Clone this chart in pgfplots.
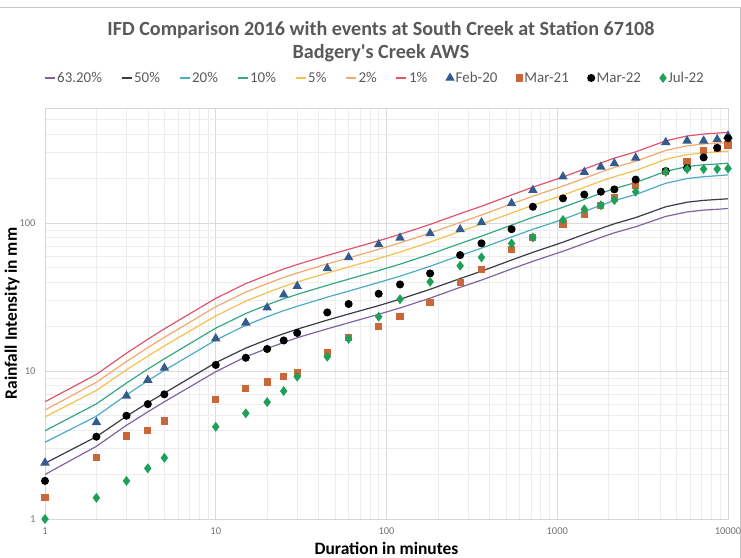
\documentclass[border=0pt]{standalone}
\usepackage{fontspec}
\setmainfont{Carlito}[Ligatures=TeXOff]
\usepackage{pgfplots}
\usepackage{pgfplotstable}
\pgfplotsset{compat=1.18}
\pgfplotsset{marklegend/.style={legend image code/.code={\draw[##1] plot coordinates {(4bp,0bp)};}}}

\definecolor{cP}{HTML}{8064A2}
\definecolor{cB}{HTML}{3A3A48}
\definecolor{cC}{HTML}{4BACC6}
\definecolor{cG}{HTML}{33A883}
\definecolor{cY}{HTML}{F2C14E}
\definecolor{cO}{HTML}{F5A86B}
\definecolor{cR}{HTML}{E0556B}
\definecolor{mF}{HTML}{335B8E}
\definecolor{mM}{HTML}{C9663A}
\definecolor{mJ}{HTML}{1FA05A}
\definecolor{txt}{HTML}{595959}

\pgfplotstableread{
d R O Y G C B P
1 6.2 5.45 4.9 3.95 3.3 2.38 2.0
2 9.5 8.4 7.4 6.0 4.95 3.6 3.1
3 13.2 11.6 10.2 8.3 6.9 4.95 4.3
4 16.4 14.4 12.6 10.3 8.6 6.1 5.3
5 19.3 16.9 14.8 12.1 10.1 7.1 6.2
10 31.0 27.2 23.6 19.5 16.2 11.4 9.9
15 39.0 34.2 29.7 24.5 20.4 14.3 12.5
20 44.5 39.0 33.9 28.0 23.3 16.3 14.2
25 49.0 42.9 37.3 30.8 25.6 17.9 15.6
30 52.5 46.0 40.0 33.0 27.4 19.2 16.8
45 60.5 53.0 46.0 38.0 31.6 22.1 19.3
60 66.5 58.2 50.5 41.8 34.7 24.3 21.2
90 76 66.5 57.7 47.8 39.7 27.7 24.2
120 84 73.5 63.8 52.8 43.8 30.6 26.7
180 98 85.7 74.4 61.6 51.1 35.7 31.1
270 116 101 88 72.8 60.4 42.2 36.8
360 130 113.5 98.5 81.6 67.7 47.3 41.2
540 155 135 117 97 80.6 56.3 49.0
720 175 152 132 109.5 90.8 63.5 55.2
1080 205 178 154.5 128 106 74.3 64.5
1440 232 201 174.5 144.5 120 84 72.8
1800 255 221 192 159 132 92 80
2160 275 238 206 171 142 99 86
2880 303 262 227 188 156 109 94.5
4320 360 310 270 224 186 129 111
5760 388 333 290 241 200 138.5 119
7200 400 343 299 248 206 142.5 122.5
8640 406 347 303 251 209 144.5 124
10000 410 350 306 254 212 146 125.5
}\ifd

\pgfplotstableread{
d F M1 M2 J
1 2.4 1.40 1.81 1.0
2 4.5 2.61 3.6 1.39
3 6.8 3.64 4.99 1.81
4 8.7 3.99 5.98 2.20
5 10.5 4.59 6.96 2.59
10 16.6 6.44 11.0 4.2
15 21.2 7.59 12.3 5.18
20 26.8 8.43 14.1 6.17
25 32.8 9.16 16.1 7.33
30 37.5 9.8 18.1 9.16
45 49.4 13.3 24.9 12.5
60 58.6 16.9 28.4 16.5
90 71.8 19.9 33.3 23.3
120 79.6 23.5 38.5 30.6
180 85.2 29.1 45.7 40.1
270 90.6 39.5 60.8 51.5
360 101 48.7 73 58.7
540 136 66.4 91 72.9
720 167 80 129 80
1080 206 98.5 147 105
1440 221 115 156 124
1800 240 132 163 132
2160 253 148 169 143
2880 276 181 197 163
4320 352 222 225 222
5760 360 262 236 232
7200 360 308 278 232
8640 368 320 323 232
10000 389 337 375 234
}\ev

\begin{document}
\begin{tikzpicture}
\path[use as bounding box] (0bp,0bp) rectangle (741bp,558bp);
\draw[draw=black!22, line width=1bp] (0bp,550bp) -- (740bp,550bp) -- (740bp,0bp);
\node[font=\bfseries\fontsize{20.2}{23}\selectfont, text=txt] at (381bp,528bp) {IFD Comparison 2016 with events at South Creek at Station 67108};
\node[font=\bfseries\fontsize{20.2}{23}\selectfont, text=txt] at (381bp,505bp) {Badgery's Creek AWS};
\begin{axis}[
  at={(45bp,39bp)}, anchor=south west, scale only axis,
  width=683bp, height=411bp,
  xmode=log, ymode=log,
  xmin=1, xmax=10000, ymin=1, ymax=600,
  xtick={1,10,100,1000,10000}, xticklabels={1,10,100,1000,10000},
  ytick={1,10,100}, yticklabels={1,10,100},
  minor xtick={2,3,4,5,6,7,8,9,20,30,40,50,60,70,80,90,200,300,400,500,600,700,800,900,2000,3000,4000,5000,6000,7000,8000,9000},
  minor ytick={2,3,4,5,6,7,8,9,20,30,40,50,60,70,80,90,200,300,400,500},
  grid=both,
  major grid style={draw=black!14, line width=0.7bp},
  minor grid style={draw=black!7, line width=0.5bp},
  axis line style={draw=black!16},
  tick style={draw=none},
  ticklabel style={font=\fontsize{10.5}{12}\selectfont, text=black!55},
  xticklabel style={yshift=-5bp},
  yticklabel style={xshift=-6bp},
  xlabel={Duration in minutes}, ylabel={Rainfall Intensity in mm},
  label style={font=\bfseries\fontsize{17.5}{19}\selectfont},
  xlabel style={at={(axis description cs:0.5,0)}, anchor=center, yshift=-29bp},
  ylabel style={at={(axis description cs:-0.048,0.5)}, anchor=center},
  legend style={at={(axis description cs:0.483,1)}, anchor=center, yshift=30bp,
    draw=none, fill=none, font=\fontsize{15}{17}\selectfont, text=txt,
    /tikz/every even column/.append style={column sep=17bp}},
  legend columns=-1,
  legend image code/.code={\draw[#1,mark=none] (0bp,0bp) -- (10bp,0bp);},
  every axis plot/.append style={line width=1.2bp},
]
\addplot[cP, no marks] table[x=d,y=P] {\ifd}; \addlegendentry{63.20\%}
\addplot[cB, no marks] table[x=d,y=B] {\ifd}; \addlegendentry{50\%}
\addplot[cC, no marks] table[x=d,y=C] {\ifd}; \addlegendentry{20\%}
\addplot[cG, no marks] table[x=d,y=G] {\ifd}; \addlegendentry{10\%}
\addplot[cY, no marks] table[x=d,y=Y] {\ifd}; \addlegendentry{5\%}
\addplot[cO, no marks] table[x=d,y=O] {\ifd}; \addlegendentry{2\%}
\addplot[cR, no marks] table[x=d,y=R] {\ifd}; \addlegendentry{1\%}
\addplot[only marks, mark=triangle*, mark size=4.3bp, mF, mark options={fill=mF, draw=mF}, marklegend] table[x=d,y=F] {\ev}; \addlegendentry{Feb-20}
\addplot[only marks, mark=square*, mark size=3bp, mM, mark options={fill=mM, draw=mM}, marklegend] table[x=d,y=M1] {\ev}; \addlegendentry{Mar-21}
\addplot[only marks, mark=*, mark size=3.4bp, black, mark options={fill=black, draw=black}, marklegend] table[x=d,y=M2] {\ev}; \addlegendentry{Mar-22}
\addplot[only marks, mark=diamond*, mark size=4bp, mJ, mark options={fill=mJ, draw=mJ}, marklegend] table[x=d,y=J] {\ev}; \addlegendentry{Jul-22}
\end{axis}
\end{tikzpicture}
\end{document}
